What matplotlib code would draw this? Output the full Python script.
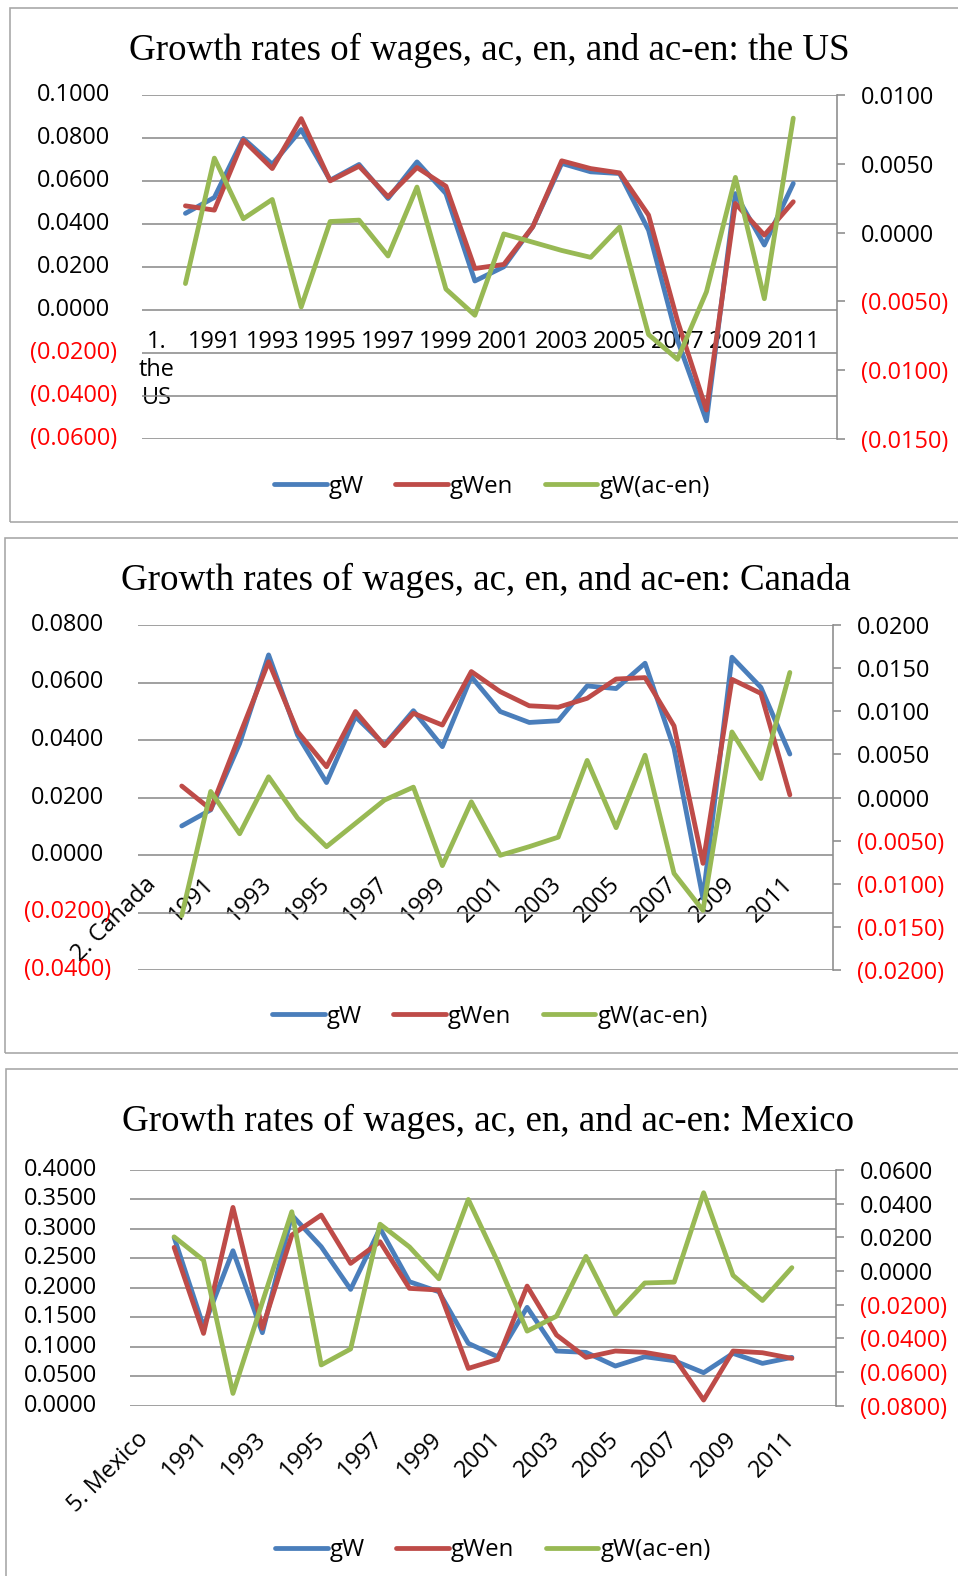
import matplotlib
matplotlib.use("Agg")
import matplotlib.pyplot as plt
from matplotlib.patches import Rectangle

W, H = 958, 1576
DPI = 72

years = list(range(1990, 2012))
tick_years = [str(y) for y in years[1::2]]

# the US
us_gw = [0.0449, 0.0523, 0.0797, 0.0677, 0.0838, 0.0603, 0.0676, 0.0518, 0.0688, 0.0541, 0.0135,
         0.0201, 0.0387, 0.0681, 0.0642, 0.0634, 0.0371, -0.0140, -0.0514, 0.0541, 0.0302, 0.0588]
us_gwen = [0.0484, 0.0464, 0.0789, 0.0657, 0.0889, 0.0600, 0.0668, 0.0526, 0.0662, 0.0575, 0.0193,
           0.0212, 0.0387, 0.0693, 0.0657, 0.0637, 0.0441, -0.0050, -0.0464, 0.0495, 0.0348, 0.0503]
us_acen = [-0.0037, 0.0054, 0.0010, 0.0024, -0.0054, 0.0008, 0.0009, -0.0017, 0.0033, -0.0041, -0.0060,
           -0.0001, -0.0007, -0.0013, -0.0018, 0.0004, -0.0074, -0.0092, -0.0043, 0.0040, -0.0048, 0.0083]
us_left_ticks = [-0.06, -0.04, -0.02, 0.0, 0.02, 0.04, 0.06, 0.08, 0.10]
us_right_ticks = [-0.015, -0.010, -0.005, 0.0, 0.005, 0.010]

# Canada
ca_gw = [0.0101, 0.0157, 0.0388, 0.0696, 0.0417, 0.0252, 0.0481, 0.0383, 0.0502, 0.0377, 0.0620,
         0.0499, 0.0461, 0.0467, 0.0588, 0.0579, 0.0667, 0.0371, -0.0151, 0.0688, 0.0583, 0.0351]
ca_gwen = [0.0240, 0.0159, 0.0417, 0.0672, 0.0429, 0.0307, 0.0499, 0.0380, 0.0493, 0.0452, 0.0638,
           0.0568, 0.0519, 0.0514, 0.0545, 0.0612, 0.0617, 0.0449, -0.0029, 0.0611, 0.0562, 0.0209]
ca_acen = [-0.0137, 0.0007, -0.0042, 0.0024, -0.0024, -0.0057, -0.0030, -0.0003, 0.0012, -0.0079, -0.0005,
           -0.0067, -0.0057, -0.0046, 0.0043, -0.0035, 0.0049, -0.0088, -0.0131, 0.0076, 0.0022, 0.0145]
ca_left_ticks = [-0.04, -0.02, 0.0, 0.02, 0.04, 0.06, 0.08]
ca_right_ticks = [-0.020, -0.015, -0.010, -0.005, 0.0, 0.005, 0.010, 0.015, 0.020]

# Mexico
mx_gw = [0.2856, 0.1340, 0.2630, 0.1239, 0.3235, 0.2698, 0.1974, 0.3009, 0.2104, 0.1934, 0.1058,
         0.0831, 0.1669, 0.0928, 0.0905, 0.0673, 0.0831, 0.0764, 0.0560, 0.0888, 0.0718, 0.0820]
mx_gwen = [0.2687, 0.1227, 0.3365, 0.1312, 0.2896, 0.3235, 0.2415, 0.2783, 0.1991, 0.1963, 0.0633,
           0.0786, 0.2030, 0.1199, 0.0820, 0.0928, 0.0905, 0.0820, 0.0096, 0.0928, 0.0899, 0.0803]
mx_acen = [0.0203, 0.0064, -0.0727, -0.0185, 0.0352, -0.0558, -0.0463, 0.0278, 0.0143, -0.0046, 0.0425,
           0.0054, -0.0357, -0.0268, 0.0087, -0.0258, -0.0071, -0.0066, 0.0465, -0.0026, -0.0175, 0.0020]
mx_left_ticks = [0.0, 0.05, 0.10, 0.15, 0.20, 0.25, 0.30, 0.35, 0.40]
mx_right_ticks = [-0.08, -0.06, -0.04, -0.02, 0.0, 0.02, 0.04, 0.06]

BLUE = "#4A7EBB"
RED = "#BE4B48"
GREEN = "#98B954"
GRID = "#8C8C8C"
BORDER = "#A6A6A6"

plt.rcParams["font.family"] = ["Open Sans", "DejaVu Sans"]
TICK_FS = 23.5
LW = 4.8


def fmt(v):
    s = "%.4f" % abs(v)
    return "(%s)" % s if v < -1e-12 else s


def rect(l, t, r, b):
    return [l / W, 1 - b / H, (r - l) / W, (b - t) / H]


fig = plt.figure(figsize=(W / DPI, H / DPI), dpi=DPI)
fig.patch.set_facecolor("white")


def panel(box, title, title_xy, pos, first_cat, gw, gwen, acen, lticks, rticks,
          lpad, rpad, rotate, xpad, legend_xy):
    # border of the chart area
    l, t, r, b = box
    fig.patches.append(Rectangle((l / W, 1 - b / H), (r - l) / W, (b - t) / H,
                                 transform=fig.transFigure, fill=False,
                                 edgecolor=BORDER, lw=1.6))
    fig.text(title_xy[0] / W, 1 - title_xy[1] / H, title, ha="center", va="center",
             fontsize=37, family="Liberation Serif")

    ax = fig.add_axes(rect(*pos))
    x = list(range(1, len(gw) + 1))
    l1, = ax.plot(x, gw, color=BLUE, lw=LW, solid_joinstyle="round", solid_capstyle="round")
    l2, = ax.plot(x, gwen, color=RED, lw=LW, solid_joinstyle="round", solid_capstyle="round")
    ax.set_xlim(-0.5, 23.5)
    ax.set_ylim(lticks[0], lticks[-1])
    ax.set_yticks(lticks)
    ax.grid(axis="y", color=GRID, lw=1.6)
    ax.set_axisbelow(True)
    ax.tick_params(axis="y", length=0, labelleft=False)
    for s in ["left", "right", "top"]:
        ax.spines[s].set_visible(False)
    ax.spines["bottom"].set_position(("data", 0))
    ax.spines["bottom"].set_color("none")
    ax.set_xticks(list(range(0, 23, 2)))
    if rotate:
        ax.set_xticklabels([first_cat] + tick_years, rotation=45, ha="right",
                           va="center", rotation_mode="anchor", fontsize=TICK_FS)
    else:
        ax.set_xticklabels([first_cat] + tick_years, fontsize=TICK_FS, linespacing=1.22)
    ax.tick_params(axis="x", length=0, pad=xpad)

    # left value labels, Excel style: positives leave room for ")"
    for v in lticks:
        neg = v < -1e-12
        ax.annotate(fmt(v), xy=(0, v), xycoords=("axes fraction", "data"),
                    xytext=(-(lpad if neg else lpad + 7), 0), textcoords="offset points",
                    ha="right", va="center", fontsize=TICK_FS,
                    color="#FF0000" if neg else "black")

    axr = ax.twinx()
    l3, = axr.plot(x, acen, color=GREEN, lw=LW, solid_joinstyle="round", solid_capstyle="round")
    axr.set_ylim(rticks[0], rticks[-1])
    axr.set_yticks(rticks)
    axr.set_yticklabels([fmt(v) for v in rticks], fontsize=TICK_FS)
    for lbl, v in zip(axr.get_yticklabels(), rticks):
        lbl.set_color("#FF0000" if v < -1e-12 else "black")
    axr.tick_params(axis="y", direction="out", length=8, width=1.6, color=GRID, pad=rpad)
    for s in ["left", "top", "bottom"]:
        axr.spines[s].set_visible(False)
    axr.spines["right"].set_color(GRID)
    axr.spines["right"].set_linewidth(1.6)

    fig.legend([l1, l2, l3], ["gW", "gWen", "gW(ac-en)"], loc="center",
               bbox_to_anchor=(legend_xy[0] / W, 1 - legend_xy[1] / H), ncol=3,
               frameon=False, fontsize=24, handlelength=2.2, handletextpad=0.08,
               columnspacing=1.3)


panel((10, 8, 990, 521.7), "Growth rates of wages, ac, en, and ac-en: the US", (489, 50),
      (142, 94.7, 836.7, 439.3), "1.\nthe\nUS", us_gw, us_gwen, us_acen,
      us_left_ticks, us_right_ticks, 25, 16, False, 20, (492, 486.7))

panel((4.5, 538, 990, 1053), "Growth rates of wages, ac, en, and ac-en: Canada", (486, 580),
      (138.3, 625, 833.3, 970), "2. Canada", ca_gw, ca_gwen, ca_acen,
      ca_left_ticks, ca_right_ticks, 27, 16, True, 26, (490, 1016.7))

panel((5.5, 1069, 990, 1700), "Growth rates of wages, ac, en, and ac-en: Mexico", (488, 1121),
      (130, 1170, 836, 1405.7), "5. Mexico", mx_gw, mx_gwen, mx_acen,
      mx_left_ticks, mx_right_ticks, 26, 16, True, 30, (493, 1550))

fig.savefig("out.png", dpi=DPI)
